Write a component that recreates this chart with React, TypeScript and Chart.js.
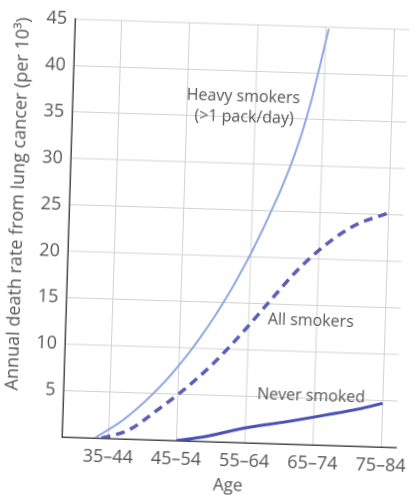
import React, { useEffect, useRef } from "react";
import { Chart, registerables } from "chart.js";

Chart.register(...registerables);

const FONT = "'Open Sans', 'Noto Sans', sans-serif";

// Age groups (x axis) and the mid-age used to place them
const categories = ["35–44", "45–54", "55–64", "65–74", "75–84"];
const categoryAges = [40, 50, 60, 70, 80];

// y axis
const yMax = 45;
const yStep = 5;

// Heavy smokers (>1 pack/day)
const heavyAges = [38, 42, 46, 50, 54, 58, 62, 66, 68, 70.4];
const heavyRates = [0, 2, 4.7, 8.1, 12.3, 17.4, 23.6, 31.2, 36.5, 44.8];

// All smokers
const allAges = [39, 43, 47, 51, 55, 59, 63, 67, 71, 75, 80];
const allRates = [0, 1.0, 3.2, 5.6, 8.4, 11.7, 15.3, 18.8, 21.6, 23.7, 25.2];

// Never smoked
const neverAges = [50, 54, 60, 66, 72, 77, 80];
const neverRates = [0, 0.5, 1.6, 2.4, 3.3, 4.1, 4.7];

// In-plot labels
const labelTexts = ["Heavy smokers", "(>1 pack/day)", "All smokers", "Never smoked"];
const labelAges = [58.2, 58.4, 69.1, 69.5];
const labelRates = [37.2, 35.0, 13.3, 5.2];

const pairs = (xs: number[], ys: number[]) => xs.map((x, i) => ({ x, y: ys[i] }));

const labelPlugin = {
  id: "curveLabels",
  afterDatasetsDraw(chart: any) {
    const { ctx, scales } = chart;
    ctx.save();
    ctx.font = `16px ${FONT}`;
    ctx.fillStyle = "#555";
    ctx.textAlign = "center";
    ctx.textBaseline = "middle";
    labelTexts.forEach((t, i) => {
      ctx.fillText(t, scales.x.getPixelForValue(labelAges[i]), scales.y.getPixelForValue(labelRates[i]));
    });
    ctx.restore();
  },
};

export default function App() {
  const ref = useRef<HTMLCanvasElement | null>(null);

  useEffect(() => {
    if (!ref.current) return;
    const chart = new Chart(ref.current, {
      type: "line",
      data: {
        datasets: [
          {
            label: "Heavy smokers (>1 pack/day)",
            data: pairs(heavyAges, heavyRates),
            borderColor: "#8ea7e3",
            borderWidth: 2,
            pointRadius: 0,
            cubicInterpolationMode: "monotone",
            fill: false,
          },
          {
            label: "All smokers",
            data: pairs(allAges, allRates),
            borderColor: "#5a5eb6",
            borderWidth: 3.5,
            borderDash: [9, 6],
            pointRadius: 0,
            cubicInterpolationMode: "monotone",
            fill: false,
          },
          {
            label: "Never smoked",
            data: pairs(neverAges, neverRates),
            borderColor: "#4a51b6",
            borderWidth: 3,
            pointRadius: 0,
            cubicInterpolationMode: "monotone",
            fill: false,
          },
        ],
      },
      options: {
        animation: false,
        responsive: false,
        devicePixelRatio: 2,
        layout: { padding: { top: 15, right: 13, left: 0, bottom: 0 } },
        plugins: { legend: { display: false }, tooltip: { enabled: false } },
        scales: {
          x: {
            type: "linear",
            min: 33.2,
            max: 82.2,
            afterBuildTicks: (s: any) => {
              s.ticks = categoryAges.map((v) => ({ value: v }));
            },
            afterFit: (s: any) => {
              s.height = 58;
            },
            ticks: {
              autoSkip: false,
              maxRotation: 0,
              padding: 8,
              color: "#555",
              font: { family: FONT, size: 18 },
              callback: (v: any) => categories[categoryAges.indexOf(Number(v))] ?? "",
            },
            grid: { color: "#d2d2d2", lineWidth: 1, drawTicks: false },
            border: { color: "#4a4a4a", width: 1.5 },
            title: {
              display: true,
              text: "Age",
              color: "#555",
              font: { family: FONT, size: 17 },
              padding: { top: 0, bottom: 4 },
            },
          },
          y: {
            min: 0,
            max: yMax,
            afterFit: (s: any) => {
              s.width = 62;
            },
            ticks: {
              stepSize: yStep,
              padding: 8,
              color: "#555",
              font: { family: FONT, size: 18 },
              callback: (v: any) => (Number(v) === 0 ? "" : String(v)),
            },
            grid: { color: "#d2d2d2", lineWidth: 1, drawTicks: false },
            border: { color: "#4a4a4a", width: 1.5 },
            title: {
              display: true,
              text: "Annual death rate from lung cancer (per 10³)",
              align: "end",
              color: "#555",
              font: { family: FONT, size: 18 },
              padding: { top: 0, bottom: 0 },
            },
          },
        },
      },
      plugins: [labelPlugin],
    });
    return () => chart.destroy();
  }, []);

  return (
    <div
      style={{
        position: "fixed",
        left: 0,
        top: 0,
        width: 415,
        height: 495,
        overflow: "hidden",
        background: "#fff",
      }}
    >
      <div style={{ width: 415, height: 495, transform: "rotate(1.8deg)", transformOrigin: "62px 437px" }}>
        <canvas ref={ref} width={415} height={495} style={{ display: "block", width: 415, height: 495 }} />
      </div>
    </div>
  );
}
